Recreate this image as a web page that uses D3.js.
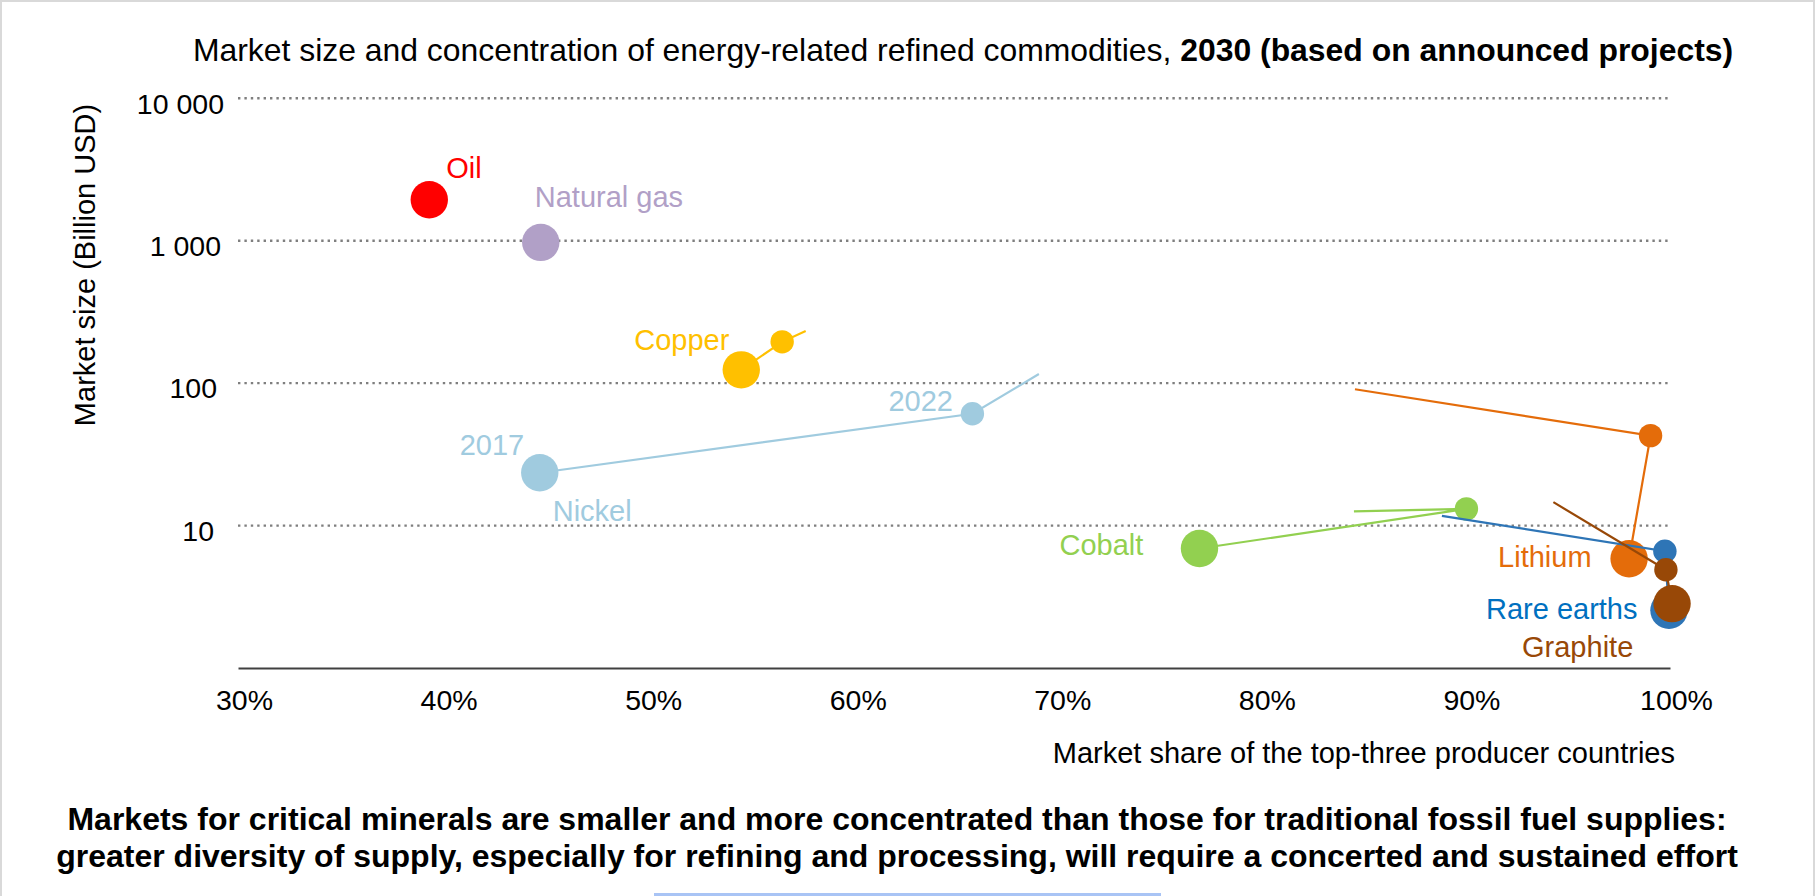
<!DOCTYPE html>
<html>
<head>
<meta charset="utf-8">
<script src="https://cdn.jsdelivr.net/npm/d3@7/dist/d3.min.js"></script>
<style>
  html, body { margin: 0; padding: 0; background: #ffffff; }
  svg { display: block; font-family: "Liberation Sans", Arial, sans-serif; }
</style>
</head>
<body>
<svg id="chart" width="1815" height="896"></svg>
<script>
// ---------------- DATA ----------------
const commodities = ["Oil", "Natural gas", "Copper", "Nickel", "Cobalt", "Lithium", "Rare earths", "Graphite"];
const colors      = ["#ff0000", "#b1a0c7", "#ffc000", "#a0cbdf", "#92d050", "#e46c0a", "#2e75b6", "#984807"];
const labelColors = ["#ff0000", "#b1a0c7", "#ffc000", "#a0cbdf", "#92d050", "#e46c0a", "#0070c0", "#984807"];
// market share of top-three producers (%) and market size (billion USD)
const share2017 = [39.35, 44.8, 54.6, 44.75, 77.0, 98.0, 99.95, 100.1];
const size2017  = [1940, 973, 124, 23.5, 6.9, 5.85, 2.54, 2.83];
const share2022 = [null, null, 56.6, 65.9, 90.05, 99.05, 99.75, 99.8];
const size2022  = [null, null, 195, 61, 13.1, 42.8, 6.6, 4.9];
const share2030 = [null, null, 57.75, 69.15, 84.55, 84.6, 88.85, 94.3];
const size2030  = [null, null, 232, 116, 12.6, 90.6, 11.7, 14.6];

const xTicks = [30, 40, 50, 60, 70, 80, 90, 100];
const xTickLabels = ["30%", "40%", "50%", "60%", "70%", "80%", "90%", "100%"];
const yTicks = [10, 100, 1000, 10000];
const yTickLabels = ["10", "100", "1 000", "10 000"];

const titleNormal = "Market size and concentration of energy-related refined commodities, ";
const titleBold = "2030 (based on announced projects)";
const yTitle = "Market size (Billion USD)";
const xTitle = "Market share of the top-three producer countries";
const footer = [
  "Markets for critical minerals are smaller and more concentrated than those for traditional fossil fuel supplies:",
  "greater diversity of supply, especially for refining and processing, will require a concerted and sustained effort"
];
const yearLabels = ["2017", "2022"];

// ---------------- LAYOUT (not data) ----------------
// label offsets relative to the 2017 marker of each commodity: [dx, dy(baseline)]
const labelOffsets = [[17, -22], [-6, -35], [-107, -20], [13, 48], [-140, 6], [-131, 8], [-183, 9], [-150, 53]];
// year label offsets (Nickel): 2017 relative to 2017 marker, 2022 relative to 2022 marker
const yearOffsets = [[-80, -18], [-84, -3]];
// horizontal nudge of y tick labels (same order as yTicks)
const yLabelNudge = [-10, -7, -3, 0];

const svg = d3.select("#chart");
const W = 1815, H = 896;

svg.append("rect").attr("width", W).attr("height", H).attr("fill", "#ffffff");
// frame
svg.append("path").attr("d", `M1,${H} L1,1 L${W - 1},1 L${W - 1},${H}`)
  .attr("fill", "none").attr("stroke", "#d9d9d9").attr("stroke-width", 2);
svg.append("line").attr("x1", 654).attr("x2", 1161).attr("y1", 894.5).attr("y2", 894.5)
  .attr("stroke", "#a9c4f5").attr("stroke-width", 3);

const x = d3.scaleLinear().domain([30, 100]).range([238, 1670]);
const y = d3.scaleLog().domain([1, 10000]).range([668, 98.3]);

// title
const title = svg.append("text").attr("x", 963).attr("y", 61).attr("text-anchor", "middle")
  .attr("font-size", 31.9).attr("fill", "#000");
title.append("tspan").text(titleNormal);
title.append("tspan").attr("font-weight", "bold").text(titleBold);

// gridlines
svg.append("g").selectAll("line").data(yTicks).join("line")
  .attr("x1", x(30)).attr("x2", x(100))
  .attr("y1", d => y(d)).attr("y2", d => y(d))
  .attr("stroke", "#7f7f7f").attr("stroke-width", 2.4)
  .attr("stroke-dasharray", "2.4 4");

// y axis
const yAxis = svg.append("g").attr("transform", `translate(${x(30)},0)`)
  .call(d3.axisLeft(y).tickValues(yTicks).tickFormat((d, i) => yTickLabels[i]).tickSize(0).tickPadding(14));
yAxis.select(".domain").remove();
yAxis.selectAll("text").attr("font-size", 28.5).attr("fill", "#000")
  .attr("font-family", '"Liberation Sans", Arial, sans-serif').attr("dy", "0.52em")
  .attr("dx", (d, i) => yLabelNudge[i]);

// x axis
const xAxis = svg.append("g").attr("transform", `translate(0,${y(1)})`)
  .call(d3.axisBottom(x).tickValues(xTicks).tickFormat((d, i) => xTickLabels[i]).tickSize(0).tickPadding(22));
xAxis.select(".domain").attr("stroke", "#404040").attr("stroke-width", 2);
xAxis.selectAll("text").attr("font-size", 28.5).attr("fill", "#000")
  .attr("font-family", '"Liberation Sans", Arial, sans-serif').attr("dx", 6);

// axis titles
svg.append("text").attr("transform", "translate(95,265) rotate(-90)")
  .attr("text-anchor", "middle").attr("font-size", 29).attr("fill", "#000").text(yTitle);
svg.append("text").attr("x", 1675).attr("y", 763).attr("text-anchor", "end")
  .attr("font-size", 29).attr("fill", "#000").text(xTitle);

// footer
svg.append("g").selectAll("text").data(footer).join("text")
  .attr("x", 897).attr("y", (d, i) => 830 + i * 37).attr("text-anchor", "middle")
  .attr("font-size", 32).attr("font-weight", "bold").attr("fill", "#000").text(d => d);

// series
const line = d3.line().x(d => x(d[0])).y(d => y(d[1]));
const plot = svg.append("g");
commodities.forEach((name, i) => {
  const g = plot.append("g");
  const pts = [];
  if (share2030[i] != null) pts.push([share2030[i], size2030[i]]);
  if (share2022[i] != null) pts.push([share2022[i], size2022[i]]);
  pts.push([share2017[i], size2017[i]]);
  if (pts.length > 1) {
    g.append("path").attr("d", line(pts)).attr("fill", "none")
      .attr("stroke", colors[i]).attr("stroke-width", 2.2);
  }
  if (share2022[i] != null) {
    g.append("circle").attr("cx", x(share2022[i])).attr("cy", y(size2022[i])).attr("r", 11.7).attr("fill", colors[i]);
  }
  g.append("circle").attr("cx", x(share2017[i])).attr("cy", y(size2017[i])).attr("r", 18.7).attr("fill", colors[i]);
});

// labels
svg.append("g").selectAll("text").data(commodities).join("text")
  .attr("x", (d, i) => x(share2017[i]) + labelOffsets[i][0])
  .attr("y", (d, i) => y(size2017[i]) + labelOffsets[i][1])
  .attr("font-size", 29).attr("fill", (d, i) => labelColors[i]).text(d => d);

const ni = commodities.indexOf("Nickel");
svg.append("text").attr("x", x(share2017[ni]) + yearOffsets[0][0]).attr("y", y(size2017[ni]) + yearOffsets[0][1])
  .attr("font-size", 29).attr("fill", labelColors[ni]).text(yearLabels[0]);
svg.append("text").attr("x", x(share2022[ni]) + yearOffsets[1][0]).attr("y", y(size2022[ni]) + yearOffsets[1][1])
  .attr("font-size", 29).attr("fill", labelColors[ni]).text(yearLabels[1]);
</script>
</body>
</html>
